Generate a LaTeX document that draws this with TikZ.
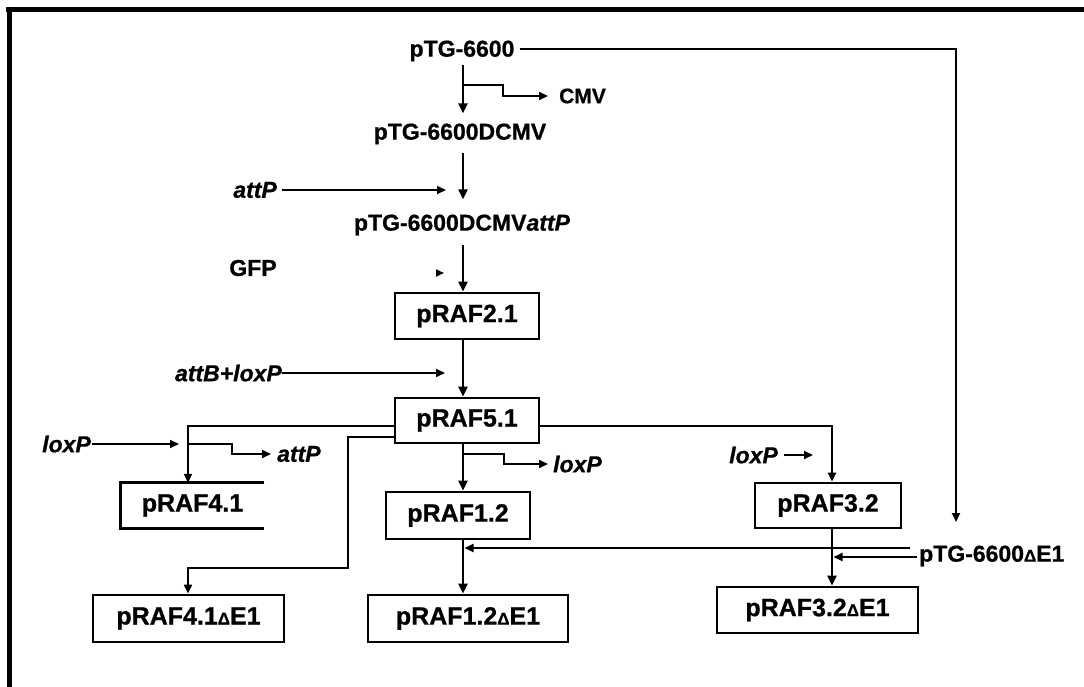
\documentclass[tikz,border=0pt]{standalone}
\usepackage{fontspec}
\setmainfont{Liberation Sans}[BoldFeatures={FakeBold=0.8},BoldItalicFeatures={FakeBold=0.8}]
\usetikzlibrary{arrows.meta,calc}
\newcommand\dlt{{\fontsize{17}{17}\selectfont Δ}}
\begin{document}
\begin{tikzpicture}[x=1pt,y=-1pt,
  lbl/.style={inner sep=0pt,font=\fontsize{23}{26}\selectfont\bfseries},
  ilbl/.style={inner sep=0pt,font=\fontsize{23}{26}\selectfont\bfseries\itshape},
  boxn/.style={draw,line width=2.8pt,inner sep=0pt,minimum height=46pt,font=\fontsize{25}{28}\selectfont\bfseries},
  openbox/.style={inner sep=0pt,minimum height=45pt,font=\fontsize{25}{28}\selectfont\bfseries},
  wire/.style={line width=2pt},
  main/.style={line width=2.8pt,-{Triangle[length=10pt,width=9pt]}},
  thin/.style={line width=2pt,-{Triangle[length=9pt,width=8pt]}},
  frame/.style={line width=5pt}
]
\useasboundingbox (0,0) rectangle (1084,687);
\draw[frame] (6,9.5) -- (1084,9.5);
\draw[frame] (9,7) -- (9,687);

% column coordinates
\coordinate (mx) at (463,0);
\coordinate (c4) at (188,0);
\coordinate (c3) at (832,0);

% nodes
\node[lbl] (t0) at (462,51) {pTG-6600};
\node[lbl,anchor=west,font=\fontsize{21}{24}\selectfont\bfseries] (cmv) at (559,96) {CMV};
\node[lbl] (t1) at (460,134) {pTG-6600DCMV};
\node[ilbl,anchor=east] (a1) at (277,190) {attP};
\node[lbl] (t2) at (462,225) {pTG-6600DCMV\textit{attP}};
\node[lbl] (gfp) at (253,268) {GFP};
\node[boxn,minimum width=144pt] (b21) at (467,316) {pRAF2.1};
\node[ilbl,anchor=east] (a2) at (282,373) {attB+loxP};
\node[boxn,minimum width=144pt,minimum height=45pt] (b51) at (467,420.5) {pRAF5.1};
\node[ilbl,anchor=east] (l1) at (91,444) {loxP};
\node[ilbl,anchor=west] (a3) at (277,454) {attP};
\node[openbox,minimum width=143pt] (b41) at (192.5,505.5) {pRAF4.1};
\node[boxn,minimum width=144pt,minimum height=47pt] (b12) at (458,515.5) {pRAF1.2};
\node[ilbl,anchor=west] (l2) at (553,464) {loxP};
\node[ilbl,anchor=east] (l3) at (778,455) {loxP};
\node[boxn,minimum width=146pt,minimum height=45pt] (b32) at (828,505.5) {pRAF3.2};
\node[lbl,anchor=west] (e1) at (919,556) {pTG-6600\dlt E1};
\node[boxn,minimum width=191pt,minimum height=47pt] (b41e) at (188.5,618.5) {pRAF4.1\dlt E1};
\node[boxn,minimum width=200pt,minimum height=47pt] (b12e) at (468,618.5) {pRAF1.2\dlt E1};
\node[boxn,minimum width=201pt,minimum height=46pt] (b32e) at (817.5,610) {pRAF3.2\dlt E1};

% open box sides of pRAF4.1
\draw[line width=2.8pt] (b41.north east) -- (b41.north west) -- (b41.south west) -- (b41.south east);

% connectors
\coordinate (k1) at (956,522);
\draw[thin] ($(t0.east)+(5,-2)$) -| (k1);
\draw[main] ($(t0.south -| mx)+(0,3)$) -- ($(t1.north -| mx)+(0,-10)$);
\draw[thin] ($(t0.south -| mx)+(0,23)$) -| (503,96) -- ($(cmv.west)+(-11,0)$);
\draw[main] ($(t1.south -| mx)+(0,8)$) -- ($(t2.north -| mx)+(0,-15)$);
\draw[thin] ($(a1.east)+(5,0)$) -- ($(a1.east -| mx)+(-17,0)$);
\draw[main] ($(t2.south -| mx)+(0,9)$) -- (b21.north -| mx);
\draw[line width=2pt,-{Triangle[length=8pt,width=7pt]}] ($(gfp.east -| mx)+(-27,5)$) -- ($(gfp.east -| mx)+(-19,5)$);
\draw[main] (b21.south -| mx) -- (b51.north -| mx);
\draw[thin] (a2.east) -- ($(a2.east -| mx)+(-18,0)$);
\draw[thin] ($(b51.west)+(0,5.5)$) -| (b41.north -| c4);
\draw[thin] ($(l1.east)+(1,0)$) -- ($(l1.east -| c4)+(-9,0)$);
\draw[thin] (l1.east -| c4) -- (232,444) -- (232,454) -- ($(a3.west)+(-6,0)$);
\coordinate (w2) at (348,568);
\draw[thin] ($(b51.west)+(0,16.5)$) -| (w2) -| (b41e.north -| c4);
\draw[main] (b51.south -| mx) -- (b12.north -| mx);
\draw[thin] ($(b51.south -| mx)+(0,10)$) -| (504,464) -- ($(l2.west)+(-5,0)$);
\draw[thin] ($(b51.east)+(0,5.5)$) -| (b32.north -| c3);
\draw[thin] ($(l3.east)+(6,0)$) -- ++(29,0);
\draw[main] (b12.south -| mx) -- (b12e.north -| mx);
\coordinate (e1u) at ($(e1.west)+(-9,-8)$);
\draw[thin] (e1u) -- ($(e1u -| mx)+(1.5,0)$);
\draw[main] (b32.south -| c3) -- (b32e.north -| c3);
\coordinate (e1l) at ($(e1.west)+(-2,1)$);
\draw[thin] (e1l) -- ($(e1l -| c3)+(1.5,0)$);
\end{tikzpicture}
\end{document}
